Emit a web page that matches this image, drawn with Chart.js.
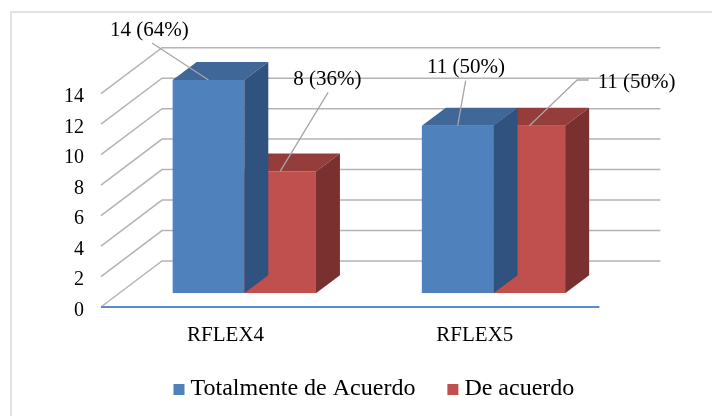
<!DOCTYPE html>
<html>
<head>
<meta charset="utf-8">
<script src="https://cdn.jsdelivr.net/npm/chart.js@4"></script>
<style>
html, body { margin: 0; padding: 0; background: #fff; }
#wrap { width: 712px; height: 416px; position: relative; }
</style>
</head>
<body>
<div id="wrap"><canvas id="grafico"></canvas></div>
<script>
var categorias = ["RFLEX4", "RFLEX5"];
var totalmenteDeAcuerdo = [14, 11];
var deAcuerdo = [8, 11];
var marcasY = [0, 2, 4, 6, 8, 10, 12, 14];

var fuente = '"Liberation Serif", "Times New Roman", serif';

// caras 3D: frente de barra -> pared frontal -> pared del fondo
var prof = { dx: 24, dy: -18 };
var frente = { dx: -18.7, dy: 13.7 };
var fondo = { dx: 61, dy: -46 };

var colores = [
    { cara: "#4f81bd", techo: "#3f6797", lado: "#30527f" },
    { cara: "#c0504d", techo: "#953d3b", lado: "#7a302f" }
];

// posicion de las etiquetas (movidas a mano), relativas a la parte alta de la barra
var etiquetas = [
    [ { tx: -59, ty: -44, lx: -56.5, ly: -37 }, { tx: 8.3, ty: -53, lx: 8, ly: -45 } ],
    [ { tx: 47.3, ty: -86.7, lx: 48, ly: -79 }, { tx: 107.3, ty: -37.4, lx: 47.8, ly: -45.7, codo: 59.4 } ]
];

var efecto3d = {
    id: "efecto3d",
    beforeDraw: function (chart) {
        var ctx = chart.ctx;
        ctx.save();
        ctx.strokeStyle = "#d9d9d9";
        ctx.lineWidth = 1.5;
        ctx.beginPath();
        ctx.moveTo(11, 416);
        ctx.lineTo(11, 12);
        ctx.lineTo(712, 12);
        ctx.stroke();
        ctx.restore();
    },
    beforeDatasetsDraw: function (chart) {
        var ctx = chart.ctx, area = chart.chartArea;
        var y = chart.scales.y, x = chart.scales.x;
        var xF = area.left + frente.dx;
        var xFR = area.right + frente.dx;
        ctx.save();
        ctx.strokeStyle = "#b4b4b4";
        ctx.lineWidth = 1.5;
        marcasY.forEach(function (v) {
            var yF = y.getPixelForValue(v) + frente.dy;
            ctx.beginPath();
            ctx.moveTo(xF, yF);
            ctx.lineTo(xF + fondo.dx, yF + fondo.dy);
            ctx.lineTo(xFR + fondo.dx, yF + fondo.dy);
            ctx.stroke();
        });
        var y0 = y.getPixelForValue(0) + frente.dy;
        ctx.strokeStyle = "#5b8cc9";
        ctx.lineWidth = 2;
        ctx.beginPath();
        ctx.moveTo(xF, y0);
        ctx.lineTo(xFR, y0);
        ctx.stroke();

        ctx.fillStyle = "#000";
        ctx.font = "20px " + fuente;
        ctx.textAlign = "right";
        ctx.textBaseline = "alphabetic";
        marcasY.forEach(function (v) {
            ctx.fillText(String(v), xF - 17, y.getPixelForValue(v) + frente.dy + 8.5);
        });
        ctx.font = "21px " + fuente;
        ctx.textAlign = "center";
        categorias.forEach(function (c, i) {
            ctx.fillText(c, x.getPixelForValue(i) + frente.dx, y0 + 33.7);
        });
        ctx.restore();
    },
    afterDatasetDraw: function (chart, args) {
        var ctx = chart.ctx, col = colores[args.index];
        ctx.save();
        args.meta.data.forEach(function (el) {
            var p = el.getProps(["x", "y", "base", "width"], true);
            var l = p.x - p.width / 2, r = p.x + p.width / 2;
            ctx.fillStyle = col.techo;
            ctx.beginPath();
            ctx.moveTo(l, p.y);
            ctx.lineTo(r, p.y);
            ctx.lineTo(r + prof.dx, p.y + prof.dy);
            ctx.lineTo(l + prof.dx, p.y + prof.dy);
            ctx.closePath();
            ctx.fill();
            ctx.fillStyle = col.lado;
            ctx.beginPath();
            ctx.moveTo(r, p.y);
            ctx.lineTo(r + prof.dx, p.y + prof.dy);
            ctx.lineTo(r + prof.dx, p.base + prof.dy);
            ctx.lineTo(r, p.base);
            ctx.closePath();
            ctx.fill();
        });
        ctx.restore();
    },
    afterDatasetsDraw: function (chart) {
        var ctx = chart.ctx, area = chart.chartArea;
        var sets = chart.data.datasets;
        ctx.save();
        ctx.font = "21px " + fuente;
        ctx.textAlign = "center";
        ctx.textBaseline = "alphabetic";
        sets.forEach(function (ds, d) {
            chart.getDatasetMeta(d).data.forEach(function (el, i) {
                var total = 0;
                sets.forEach(function (s) { total += s.data[i]; });
                var pct = Math.round(ds.data[i] / total * 100);
                var e = etiquetas[d][i];
                ctx.strokeStyle = "#a6a6a6";
                ctx.lineWidth = 1.3;
                ctx.beginPath();
                ctx.moveTo(el.x, el.y);
                ctx.lineTo(el.x + e.lx, el.y + e.ly);
                if (e.codo) ctx.lineTo(el.x + e.codo, el.y + e.ly);
                ctx.stroke();
                ctx.fillStyle = "#000";
                ctx.fillText(ds.data[i] + " (" + pct + "%)", el.x + e.tx, el.y + e.ty);
            });
        });

        // leyenda
        ctx.font = "24px " + fuente;
        ctx.textAlign = "left";
        var caja = 11, hueco = 6, sep = 32;
        var anchos = sets.map(function (s) { return ctx.measureText(s.label).width; });
        var totalAncho = 0;
        anchos.forEach(function (w, k) { totalAncho += caja + hueco + w + (k ? sep : 0); });
        var xl = (area.left + area.right) / 2 + 5 - totalAncho / 2;
        sets.forEach(function (s, k) {
            ctx.fillStyle = colores[k].cara;
            ctx.fillRect(xl, 384, caja, caja);
            ctx.fillStyle = "#000";
            ctx.fillText(s.label, xl + caja + hueco, 395);
            xl += caja + hueco + anchos[k] + sep;
        });
        ctx.restore();
    }
};

function dibujar() {
    var ctx = document.getElementById("grafico");
    new Chart(ctx, {
        type: "bar",
        data: {
            labels: categorias,
            datasets: [
                { label: "Totalmente de Acuerdo", data: totalmenteDeAcuerdo, backgroundColor: colores[0].cara, borderWidth: 0 },
                { label: "De acuerdo", data: deAcuerdo, backgroundColor: colores[1].cara, borderWidth: 0 }
            ]
        },
        options: {
            responsive: true,
            maintainAspectRatio: false,
            animation: false,
            categoryPercentage: 0.575,
            barPercentage: 1,
            layout: { padding: { left: 119.7, top: 80, right: 93.9, bottom: 122.7 } },
            scales: {
                x: { display: false },
                y: { display: false, min: 0, max: 14 }
            },
            plugins: {
                legend: { display: false },
                tooltip: { enabled: false }
            }
        },
        plugins: [efecto3d]
    });
}

if (document.fonts && document.fonts.load) {
    Promise.all([
        document.fonts.load('20px "Liberation Serif"'),
        document.fonts.load('24px "Liberation Serif"')
    ]).then(dibujar, dibujar);
} else {
    dibujar();
}
</script>
</body>
</html>
